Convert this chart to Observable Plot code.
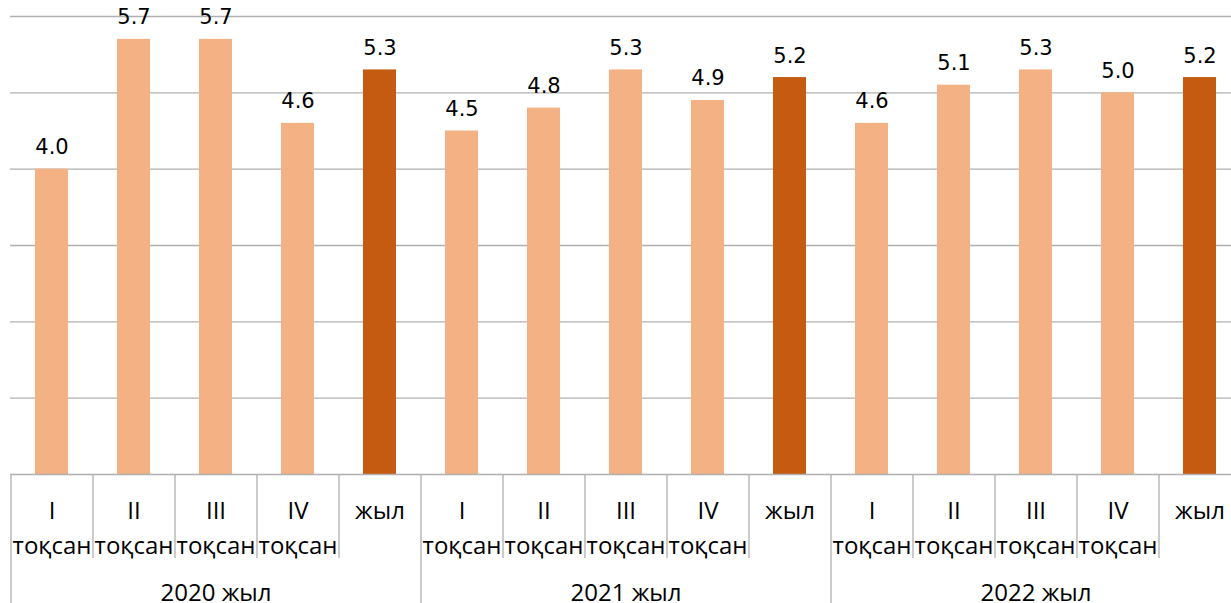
<!DOCTYPE html>
<html>
<head>
<meta charset="utf-8">
<script src="https://cdn.jsdelivr.net/npm/d3@7"></script>
<script src="https://cdn.jsdelivr.net/npm/@observablehq/plot@0.6"></script>
<style>
  html, body { margin: 0; padding: 0; background: #fff; overflow: hidden; }
  #chart svg { display: block; max-width: none; }
</style>
</head>
<body>
<div id="chart"></div>
<script>
const years = ["2020 жыл", "2021 жыл", "2022 жыл"];
const periods = ["I", "II", "III", "IV", "жыл"];
const periodSub = ["тоқсан", "тоқсан", "тоқсан", "тоқсан", ""];
const values2020 = [4.0, 5.7, 5.7, 4.6, 5.3];
const values2021 = [4.5, 4.8, 5.3, 4.9, 5.2];
const values2022 = [4.6, 5.1, 5.3, 5.0, 5.2];
const yTicks = [1, 2, 3, 4, 5, 6];

const seriesByYear = [values2020, values2021, values2022];
const data = [];
years.forEach((yr, gi) => {
  periods.forEach((p, pi) => {
    data.push({
      key: yr + "|" + p,
      year: yr,
      period: p,
      sub: periodSub[pi],
      kind: p === "жыл" ? "year" : "quarter",
      value: seriesByYear[gi][pi],
      first: pi === 0,
      middle: pi === 2
    });
  });
});
const keys = data.map(d => d.key);

const catFont = "'Open Sans', 'Noto Sans', sans-serif";
const gridColor = "#b0b0b0";

const chart = Plot.plot({
  width: 1231,
  height: 603,
  marginLeft: 10,
  marginRight: -9,
  marginTop: 16,
  marginBottom: 129,
  style: {background: "#fff", overflow: "visible"},
  x: {type: "band", domain: keys, paddingInner: 0.6, paddingOuter: 0.3, axis: null},
  y: {domain: [0, 6], axis: null},
  color: {domain: ["quarter", "year"], range: ["#f4b183", "#c55a11"]},
  marks: [
    Plot.ruleY(yTicks, {stroke: gridColor, strokeWidth: 1.3}),
    Plot.barY(data, {x: "key", y: "value", fill: "kind"}),
    Plot.ruleY([0], {stroke: gridColor, strokeWidth: 1.3}),
    Plot.ruleX(data.filter(d => !d.first), {x: "key", dx: -41, insetTop: 458, insetBottom: -84, stroke: gridColor, strokeWidth: 1.3}),
    Plot.ruleX(data.filter(d => d.first), {x: "key", dx: -41, insetTop: 458, insetBottom: -129, stroke: gridColor, strokeWidth: 1.3}),
    Plot.text(data, {x: "key", y: "value", text: d => d.value.toFixed(1), lineAnchor: "bottom", dy: -15,
      fontFamily: "'DejaVu Sans', sans-serif", fontSize: 21, fill: "#000"}),
    Plot.text(data, {x: "key", y: () => 0, text: "period", lineAnchor: "bottom", dy: 44,
      fontFamily: catFont, fontSize: 24, fill: "#000"}),
    Plot.text(data.filter(d => d.sub), {x: "key", y: () => 0, text: "sub", lineAnchor: "bottom", dy: 79,
      fontFamily: catFont, fontSize: 24, fill: "#000"}),
    Plot.text(data.filter(d => d.middle), {x: "key", y: () => 0, text: "year", lineAnchor: "bottom", dy: 126,
      fontFamily: catFont, fontSize: 24, fill: "#000"})
  ]
});
document.getElementById("chart").appendChild(chart);
</script>
</body>
</html>
